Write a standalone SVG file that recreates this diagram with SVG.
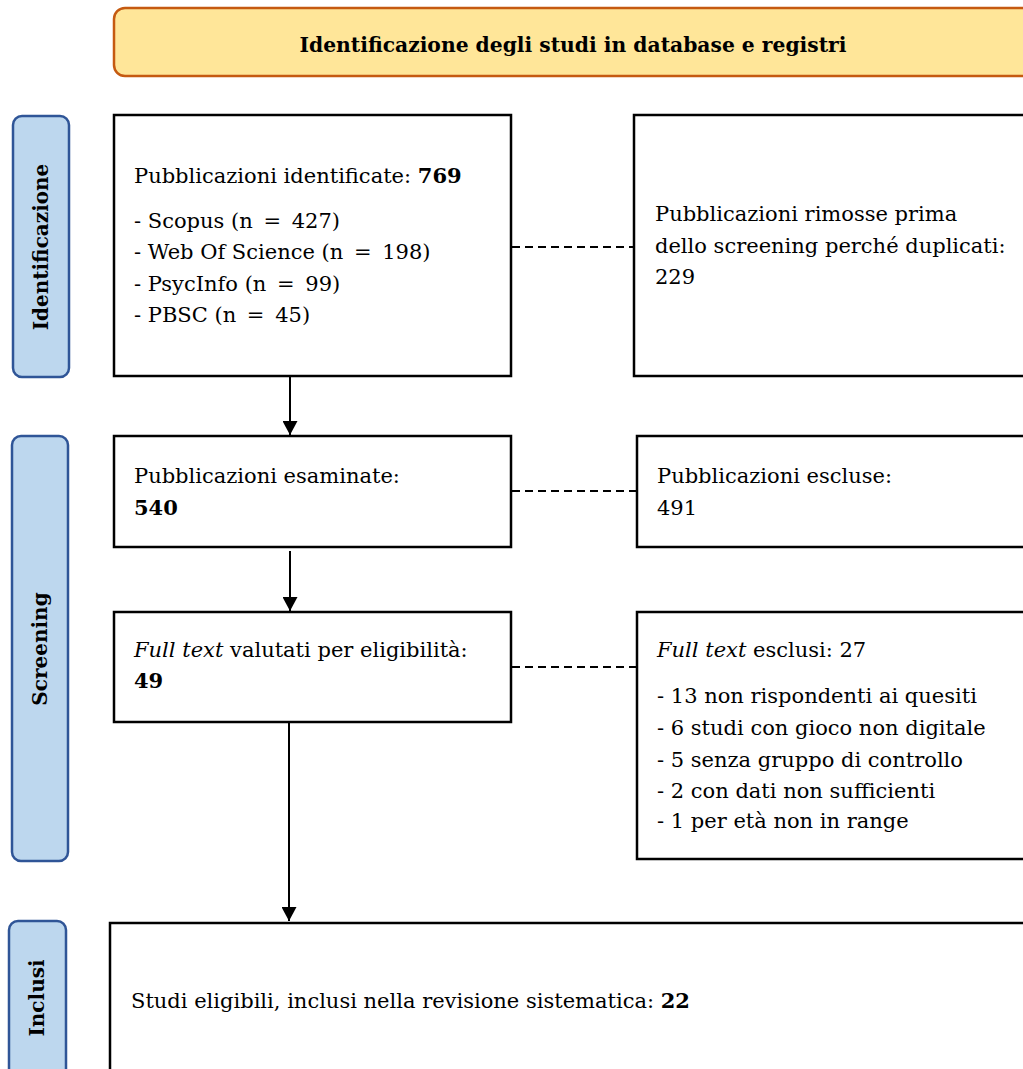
<svg xmlns="http://www.w3.org/2000/svg" width="1023" height="1069" viewBox="0 0 1023 1069">
<style>
text{font-family:"DejaVu Serif","Liberation Serif",serif;fill:#000}
.t{font-size:21px}
.b{font-weight:bold}
.i{font-style:italic}
.box{fill:#fff;stroke:#000;stroke-width:2.5}
.side{fill:#BDD7EE;stroke:#2F5597;stroke-width:2.5}
.lab{font-size:20px;font-weight:bold;text-anchor:middle}
.dash{stroke:#000;stroke-width:2;stroke-dasharray:8,5;fill:none}
.arr{stroke:#000;stroke-width:2;fill:none;marker-end:url(#ah)}
</style>
<defs>
<marker id="ah" viewBox="0 0 14 15" refX="14" refY="7.5" markerWidth="14" markerHeight="15" markerUnits="userSpaceOnUse" orient="auto">
<path d="M0,0 L14,7.5 L0,15 Z" fill="#000"/>
</marker>
</defs>
<rect width="1023" height="1069" fill="#fff"/>

<g id="banner">
<rect x="114" y="8" width="930" height="68" rx="11" fill="#FFE699" stroke="#C55A11" stroke-width="2.5"/>
<text x="573" y="52" class="b" font-size="20.3" text-anchor="middle">Identificazione degli studi in database e registri</text>
</g>

<g id="side-identificazione">
<rect x="13" y="116" width="56" height="261" rx="9" class="side"/>
<text class="lab" transform="translate(48,247) rotate(-90)">Identificazione</text>
</g>
<g id="side-screening">
<rect x="12" y="436" width="56" height="425" rx="9" class="side"/>
<text class="lab" transform="translate(47,649) rotate(-90)">Screening</text>
</g>
<g id="side-inclusi">
<rect x="9" y="921" width="57" height="160" rx="9" class="side"/>
<text class="lab" transform="translate(44,998) rotate(-90)">Inclusi</text>
</g>

<g id="connectors">
<line x1="290" y1="377" x2="290" y2="435" class="arr"/>
<line x1="290" y1="551" x2="290" y2="611" class="arr"/>
<line x1="289" y1="718" x2="289" y2="921" class="arr"/>
<line x1="512" y1="247" x2="633" y2="247" class="dash"/>
<line x1="512" y1="491" x2="637" y2="491" class="dash"/>
<line x1="512" y1="667" x2="637" y2="667" class="dash"/>
</g>

<g id="node-identificate">
<rect x="114" y="115" width="397" height="261" class="box"/>
<text x="134" y="183" class="t">Pubblicazioni identificate: <tspan class="b">769</tspan></text>
<text x="134" y="228" class="t">- Scopus (n <tspan dx="4">=</tspan> <tspan dx="4">427)</tspan></text>
<text x="134" y="259" class="t">- Web Of Science (n <tspan dx="4">=</tspan> <tspan dx="4">198)</tspan></text>
<text x="134" y="291" class="t">- PsycInfo (n <tspan dx="4">=</tspan> <tspan dx="4">99)</tspan></text>
<text x="134" y="322" class="t">- PBSC (n <tspan dx="4">=</tspan> <tspan dx="4">45)</tspan></text>
</g>

<g id="node-duplicati">
<rect x="634" y="115" width="420" height="261" class="box"/>
<text x="655" y="221" class="t">Pubblicazioni rimosse prima</text>
<text x="655" y="253" class="t">dello screening perché duplicati:</text>
<text x="655" y="284" class="t">229</text>
</g>

<g id="node-esaminate">
<rect x="114" y="436" width="397" height="111" class="box"/>
<text x="134" y="483" class="t">Pubblicazioni esaminate:</text>
<text x="134" y="515" class="t b">540</text>
</g>

<g id="node-escluse">
<rect x="637" y="436" width="420" height="111" class="box"/>
<text x="657" y="483" class="t">Pubblicazioni escluse:</text>
<text x="657" y="515" class="t">491</text>
</g>

<g id="node-fulltext">
<rect x="114" y="612" width="397" height="110" class="box"/>
<text x="134" y="657" class="t"><tspan class="i">Full text</tspan> valutati per eligibilità:</text>
<text x="134" y="688" class="t b">49</text>
</g>

<g id="node-fulltext-esclusi">
<rect x="637" y="612" width="420" height="247" class="box"/>
<text x="657" y="657" class="t"><tspan class="i">Full text</tspan> esclusi: 27</text>
<text x="657" y="703" class="t">- 13 non rispondenti ai quesiti</text>
<text x="657" y="735" class="t">- 6 studi con gioco non digitale</text>
<text x="657" y="767" class="t">- 5 senza gruppo di controllo</text>
<text x="657" y="798" class="t">- 2 con dati non sufficienti</text>
<text x="657" y="828" class="t">- 1 per età non in range</text>
</g>

<g id="node-inclusi">
<rect x="110" y="923" width="940" height="160" class="box"/>
<text x="131" y="1008" class="t">Studi eligibili, inclusi nella revisione sistematica: <tspan class="b">22</tspan></text>
</g>
</svg>
